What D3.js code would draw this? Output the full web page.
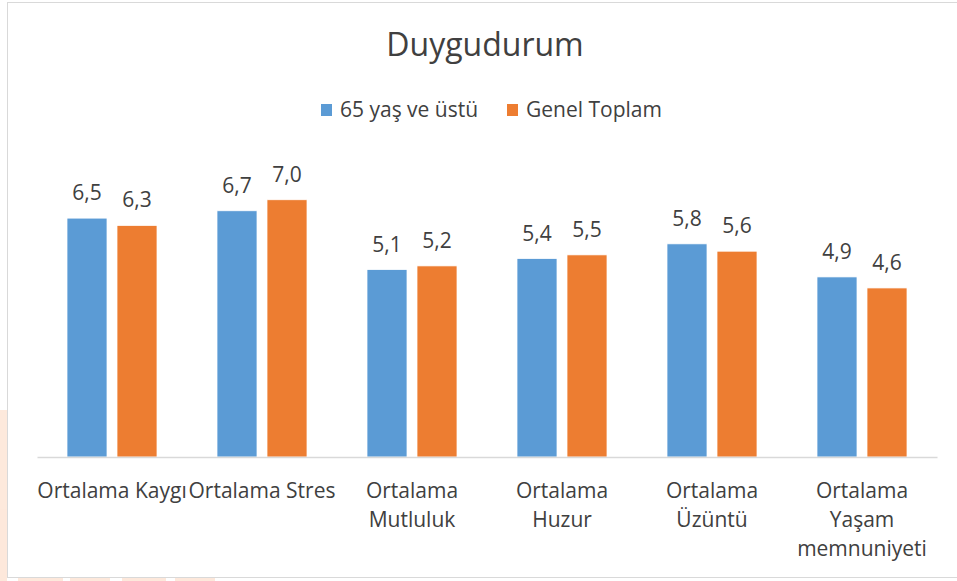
<!DOCTYPE html>
<html>
<head>
<meta charset="utf-8">
<script src="https://cdn.jsdelivr.net/npm/d3@7"></script>
<style>
  html, body { margin: 0; padding: 0; background: #fff; }
  svg text { font-family: "Open Sans", "Noto Sans", sans-serif; }
</style>
</head>
<body>
<div id="chart"></div>
<script>
(function() {
var categories = ['Ortalama Kaygı', 'Ortalama Stres', 'Ortalama Mutluluk',
    'Ortalama Huzur', 'Ortalama Üzüntü', 'Ortalama Yaşam memnuniyeti'];
// how the axis shows each category (Excel wrapped the long ones)
var tickLabels = [['Ortalama Kaygı'], ['Ortalama Stres'], ['Ortalama', 'Mutluluk'],
    ['Ortalama', 'Huzur'], ['Ortalama', 'Üzüntü'], ['Ortalama', 'Yaşam', 'memnuniyeti']];
var seriesNames = ['65 yaş ve üstü', 'Genel Toplam'];
var senior = [6.5, 6.7, 5.1, 5.4, 5.8, 4.9];
var overall = [6.3, 7.0, 5.2, 5.5, 5.6, 4.6];
var colors = ['#5b9bd5', '#ed7d31'];

var width = 957, height = 581,
    plot = {left: 37, right: 937, top: 163, bottom: 457};

var svg = d3.select('#chart').append('svg')
    .attr('width', width)
    .attr('height', height);

// faint watermark peeking out around the frame
var wm = svg.append('g').attr('fill', '#fde3d3').attr('opacity', 0.8);
wm.append('rect').attr('x', 0).attr('y', 410).attr('width', 7).attr('height', 171);
[[18, 45], [70, 40], [122, 44], [175, 40]].forEach(function(d) {
  wm.append('rect').attr('x', d[0]).attr('y', 578).attr('width', d[1]).attr('height', 3);
});

svg.append('rect')
    .attr('x', 7.5).attr('y', 2.5)
    .attr('width', 960).attr('height', 575)
    .attr('fill', '#fff')
    .attr('stroke', '#d9d9d9');

var x0 = d3.scaleBand()
    .domain(categories)
    .range([plot.left, plot.right])
    .paddingInner(0.4)
    .paddingOuter(0.2);

var x1 = d3.scaleBand()
    .domain(seriesNames)
    .range([0, x0.bandwidth()])
    .paddingInner(0.2);

var y = d3.scaleLinear()
    .domain([0, 8])
    .range([plot.bottom, plot.top]);

var rows = categories.map(function(c, i) {
  return {cat: c, vals: [senior[i], overall[i]]};
});

var groups = svg.selectAll('g.grp').data(rows)
    .enter().append('g')
        .attr('class', 'grp')
        .attr('transform', function(d) { return 'translate(' + x0(d.cat) + ',0)'; });

var cells = groups.selectAll('g.cell')
    .data(function(d) {
      return d.vals.map(function(v, j) { return {name: seriesNames[j], v: v, j: j}; });
    })
    .enter().append('g').attr('class', 'cell');

cells.append('rect')
    .attr('x', function(d) { return x1(d.name); })
    .attr('y', function(d) { return y(d.v); })
    .attr('width', x1.bandwidth())
    .attr('height', function(d) { return y(0) - y(d.v); })
    .attr('fill', function(d) { return colors[d.j]; })
    .attr('stroke', '#fff')
    .attr('stroke-width', 0.75);

cells.append('text')
    .attr('x', function(d) { return x1(d.name) + x1.bandwidth() / 2; })
    .attr('y', function(d) { return y(d.v) - 18; })
    .attr('text-anchor', 'middle')
    .attr('font-size', 21)
    .attr('fill', '#404040')
    .text(function(d) { return d3.format('.1f')(d.v).replace('.', ','); });

// category axis
var axis = svg.append('g')
    .attr('transform', 'translate(0,' + plot.bottom + ')')
    .call(d3.axisBottom(x0).tickSize(0).tickFormat(''));
axis.select('.domain').attr('stroke', '#d9d9d9').attr('stroke-width', 1.5);

axis.selectAll('.tick').each(function(c, i) {
  var t = d3.select(this).append('text')
      .attr('text-anchor', 'middle')
      .attr('font-size', 21)
      .attr('fill', '#404040');
  tickLabels[i].forEach(function(line, k) {
    t.append('tspan')
        .attr('x', 0)
        .attr('y', 41 + k * 29)
        .text(line);
  });
});

svg.append('text')
    .attr('x', 485).attr('y', 56)
    .attr('text-anchor', 'middle')
    .attr('font-size', 32)
    .attr('fill', '#404040')
    .text('Duygudurum');

// legend
var legend = svg.append('g');
var legendX = [321, 507];
seriesNames.forEach(function(name, i) {
  var item = legend.append('g').attr('transform', 'translate(' + legendX[i] + ',104)');
  item.append('rect').attr('width', 11).attr('height', 12).attr('fill', colors[i]);
  item.append('text')
      .attr('x', 19).attr('y', 13)
      .attr('font-size', 21)
      .attr('fill', '#404040')
      .text(name);
});
})();
</script>
</body>
</html>
